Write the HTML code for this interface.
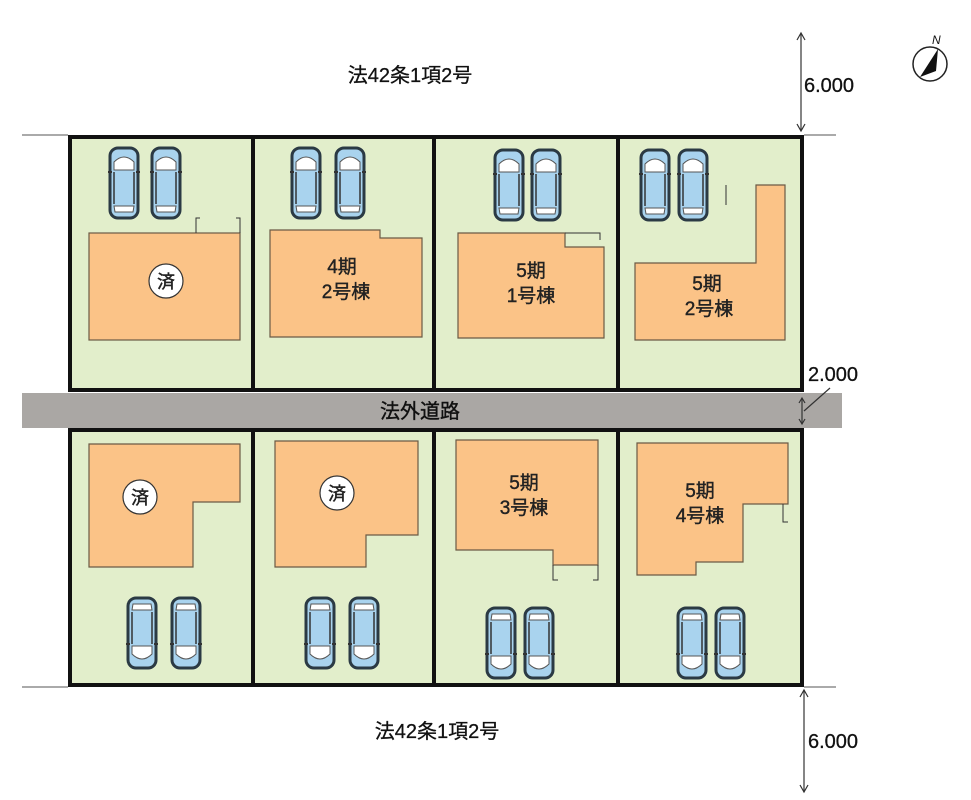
<!DOCTYPE html>
<html><head><meta charset="utf-8"><style>
html,body{margin:0;padding:0;background:#fff;}
svg{display:block;}
text{font-family:"Liberation Sans","Noto Sans CJK JP",sans-serif;}
</style></head><body>
<svg width="971" height="800" viewBox="0 0 971 800" xmlns="http://www.w3.org/2000/svg">
<defs>
<g id="car">
<rect x="0" y="0" width="28" height="70" rx="8" fill="#a9d3ee" stroke="#2b3a44" stroke-width="3"/>
<path d="M4 14 Q14 4 24 14 L24 22 L4 22 Z" fill="#fff" stroke="#555" stroke-width="1"/>
<path d="M4 58 L24 58 L23 64 L5 64 Z" fill="#fff" stroke="#555" stroke-width="1"/>
<line x1="4" y1="24" x2="4" y2="56" stroke="#333" stroke-width="1.5"/>
<line x1="24" y1="24" x2="24" y2="56" stroke="#333" stroke-width="1.5"/>
<line x1="-2" y1="24" x2="2" y2="24" stroke="#333" stroke-width="2"/>
<line x1="26" y1="24" x2="30" y2="24" stroke="#333" stroke-width="2"/>
</g>
<g id="carB"><use href="#car" transform="rotate(180 14 35)"/></g>
</defs>

<line x1="22" y1="135" x2="68" y2="135" stroke="#555" stroke-width="1"/>
<line x1="804" y1="135" x2="836" y2="135" stroke="#555" stroke-width="1"/>
<line x1="22" y1="687" x2="68" y2="687" stroke="#555" stroke-width="1"/>
<line x1="804" y1="687" x2="836" y2="687" stroke="#555" stroke-width="1"/>

<rect x="70" y="137" width="732" height="253" fill="#e2eecb" stroke="#111" stroke-width="4"/>
<rect x="70" y="430" width="732" height="255" fill="#e2eecb" stroke="#111" stroke-width="4"/>
<g stroke="#111" stroke-width="4">
<line x1="253" y1="137" x2="253" y2="390"/><line x1="434" y1="137" x2="434" y2="390"/><line x1="618" y1="137" x2="618" y2="390"/>
<line x1="253" y1="430" x2="253" y2="685"/><line x1="434" y1="430" x2="434" y2="685"/><line x1="618" y1="430" x2="618" y2="685"/>
</g>

<rect x="22" y="393" width="820" height="35" fill="#aaa7a4"/>
<text x="420" y="418" font-size="20" text-anchor="middle" fill="#111" stroke="#111" stroke-width="0.4">法外道路</text>

<g fill="#fbc387" stroke="#6b5a45" stroke-width="1.2">
<rect x="89" y="233" width="151" height="107"/>
<polygon points="270,230 380,230 380,238 422,238 422,337 270,337"/>
<polygon points="458,233 565,233 565,247 604,247 604,338 458,338"/>
<polygon points="756,185 785,185 785,340 635,340 635,263 756,263"/>
<polygon points="89,444 240,444 240,502 193,502 193,567 89,567"/>
<polygon points="275,441 418,441 418,535 366,535 366,567 275,567"/>
<polygon points="456,440 598,440 598,565 553,565 553,550 456,550"/>
<polygon points="637,443 788,443 788,504 743,504 743,562 696,562 696,575 637,575"/>
</g>
<g fill="none" stroke="#333" stroke-width="1">
<path d="M196 233 V218 H200 M236 218 H240 V233"/>
<path d="M565 233 H600 V240"/>
<path d="M726 185 V205"/>
<path d="M553 565 V580 H558 M593 580 H598 V565"/>
<path d="M783 504 V522 H788"/>
</g>

<g font-size="19" text-anchor="middle" fill="#222" stroke="#222" stroke-width="0.4">
<text x="342" y="273">4期</text><text x="346" y="298">2号棟</text>
<text x="531" y="277">5期</text><text x="531" y="302">1号棟</text>
<text x="707" y="290">5期</text><text x="709" y="315">2号棟</text>
<text x="524" y="489">5期</text><text x="524" y="514">3号棟</text>
<text x="700" y="497">5期</text><text x="700" y="522">4号棟</text>
</g>
<g font-size="18" text-anchor="middle" fill="#222">
<circle cx="166" cy="281" r="17" fill="#fff" stroke="#333" stroke-width="1.2"/><text x="166" y="288" stroke="#222" stroke-width="0.4">済</text>
<circle cx="140" cy="497" r="17" fill="#fff" stroke="#333" stroke-width="1.2"/><text x="140" y="504" stroke="#222" stroke-width="0.4">済</text>
<circle cx="337" cy="493" r="17" fill="#fff" stroke="#333" stroke-width="1.2"/><text x="337" y="500" stroke="#222" stroke-width="0.4">済</text>
</g>

<use href="#car" x="110" y="148"/><use href="#car" x="152" y="148"/>
<use href="#car" x="292" y="148"/><use href="#car" x="336" y="148"/>
<use href="#car" x="495" y="150"/><use href="#car" x="532" y="150"/>
<use href="#car" x="641" y="150"/><use href="#car" x="679" y="150"/>
<use href="#carB" x="128" y="598"/><use href="#carB" x="172" y="598"/>
<use href="#carB" x="306" y="598"/><use href="#carB" x="350" y="598"/>
<use href="#carB" x="487" y="608"/><use href="#carB" x="525" y="608"/>
<use href="#carB" x="678" y="608"/><use href="#carB" x="716" y="608"/>

<text x="410" y="82" font-size="20" text-anchor="middle" fill="#111" stroke="#111" stroke-width="0.3">法42条1項2号</text>
<text x="437" y="738" font-size="20" text-anchor="middle" fill="#111" stroke="#111" stroke-width="0.3">法42条1項2号</text>

<g stroke="#333" stroke-width="1.2" fill="none">
<line x1="801" y1="34" x2="801" y2="131"/><path d="M797 40 L801 33 L805 40 M797 124 L801 131 L805 124"/>
<line x1="804" y1="690" x2="804" y2="792"/><path d="M800 697 L804 690 L808 697 M800 785 L804 792 L808 785"/>
<line x1="802" y1="398" x2="802" y2="424"/><path d="M799 403 L802 398 L805 403 M799 419 L802 424 L805 419"/>
<line x1="804" y1="411" x2="830" y2="388"/>
</g>
<text x="804" y="92" font-size="20" fill="#111" stroke="#111" stroke-width="0.3">6.000</text>
<text x="808" y="381" font-size="20" fill="#111" stroke="#111" stroke-width="0.3">2.000</text>
<text x="808" y="748" font-size="20" fill="#111" stroke="#111" stroke-width="0.3">6.000</text>

<circle cx="930" cy="64" r="17" fill="#fff" stroke="#222" stroke-width="1.5"/>
<polygon points="938,49 920,77 936,71" fill="#111"/>
<text x="932" y="44" font-size="12" font-style="italic" fill="#111">N</text>
</svg>
</body></html>
